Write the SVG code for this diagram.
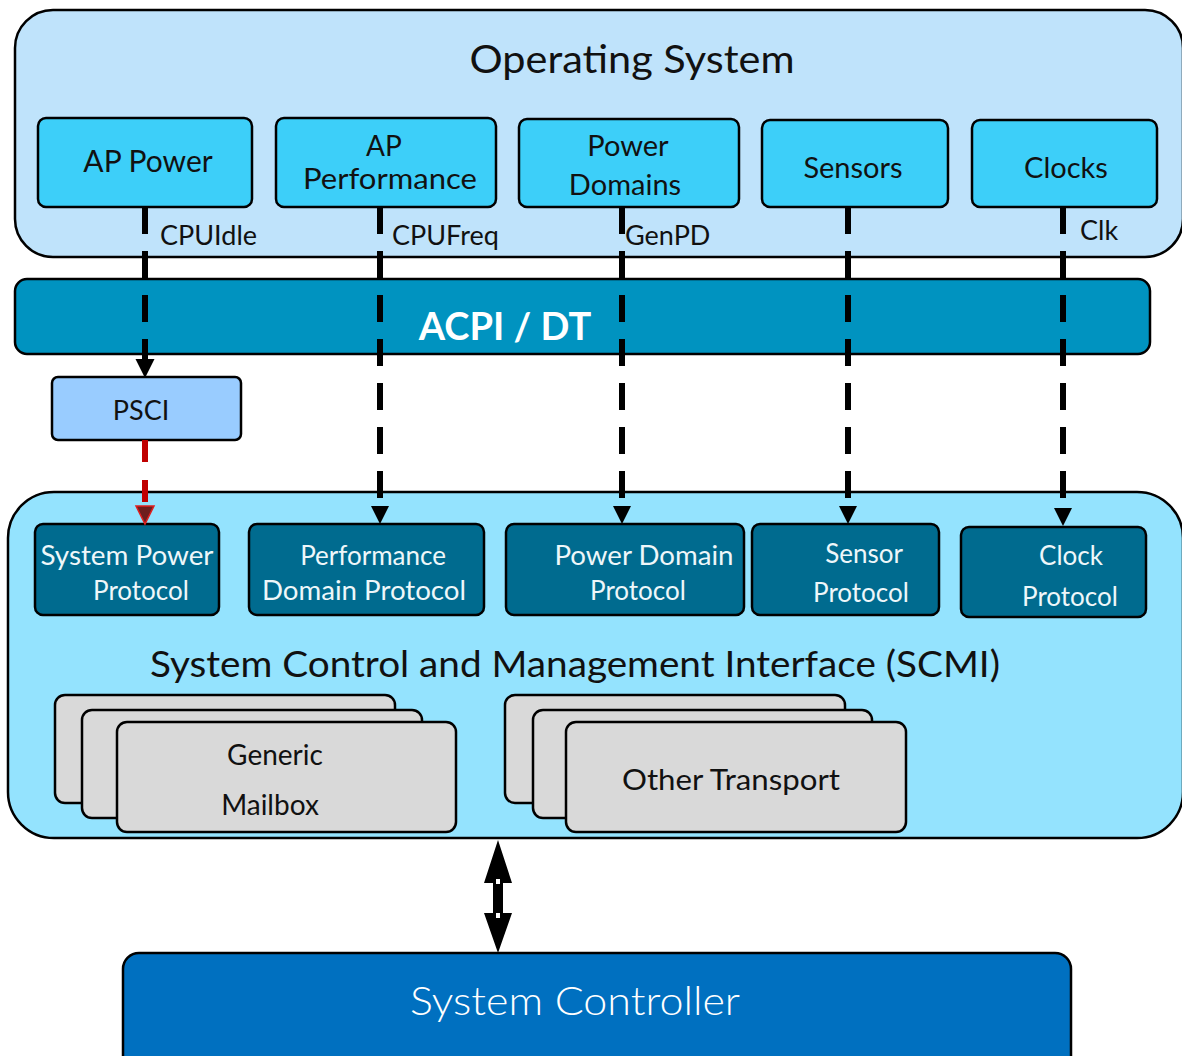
<svg xmlns="http://www.w3.org/2000/svg" width="1182" height="1056" viewBox="0 0 1182 1056">
<defs>
<style>
text{font-family:Lato,"Open Sans","Liberation Sans",sans-serif;}
.os{fill:#BFE3FB;stroke:#000;stroke-width:2.5}
.tb{fill:#3DCFF9;stroke:#000;stroke-width:2.5}
.t{fill:#111;text-anchor:middle}
.lbl{fill:#111;font-size:27px}
.pr{fill:#006B8F;stroke:#000;stroke-width:2.5}
.pt{fill:#EEF7FA;font-size:26px;text-anchor:middle}
.gr{fill:#D9D9D9;stroke:#000;stroke-width:2.5}
.dash{stroke:#000;stroke-width:6;stroke-dasharray:27 17;fill:none}
</style>
</defs>

<g id="operating-system">
<rect class="os" x="15" y="10" width="1168" height="247" rx="38"/>
<text class="t" x="632" y="73" font-size="38" textLength="325" lengthAdjust="spacingAndGlyphs">Operating System</text>
</g>

<g id="ap-power">
<rect class="tb" x="38" y="118" width="214" height="89" rx="8"/>
<text class="t" x="148" y="172" font-size="30">AP Power</text>
</g>
<g id="ap-performance">
<rect class="tb" x="276" y="118" width="220" height="89" rx="8"/>
<text class="t" x="384" y="156" font-size="28">AP</text>
<text class="t" x="390" y="189" font-size="28" textLength="174" lengthAdjust="spacingAndGlyphs">Performance</text>
</g>
<g id="power-domains">
<rect class="tb" x="519" y="119" width="220" height="88" rx="8"/>
<text class="t" x="628" y="156" font-size="29">Power</text>
<text class="t" x="625" y="195" font-size="29">Domains</text>
</g>
<g id="sensors">
<rect class="tb" x="762" y="120" width="186" height="87" rx="8"/>
<text class="t" x="853" y="178" font-size="29">Sensors</text>
</g>
<g id="clocks">
<rect class="tb" x="972" y="120" width="185" height="87" rx="8"/>
<text class="t" x="1066" y="178" font-size="29">Clocks</text>
</g>

<g id="acpi-dt">
<rect x="15" y="279" width="1135" height="75" rx="12" fill="#0093C0" stroke="#000" stroke-width="2.5"/>
<text x="505" y="340" font-size="38" font-weight="bold" fill="#fff" text-anchor="middle">ACPI / DT</text>
</g>

<g id="psci">
<rect x="52" y="377" width="189" height="63" rx="6" fill="#99CCFF" stroke="#000" stroke-width="2.5"/>
<text class="t" x="141" y="420" font-size="27">PSCI</text>
</g>

<g id="scmi">
<rect x="8" y="492" width="1175" height="346" rx="46" fill="#94E3FE" stroke="#000" stroke-width="2.5"/>
<text class="t" x="575" y="677" font-size="36" textLength="850" lengthAdjust="spacingAndGlyphs">System Control and Management Interface (SCMI)</text>
</g>

<g id="system-power-protocol">
<rect class="pr" x="35" y="524" width="184" height="91" rx="8"/>
<text class="pt" x="127" y="565" textLength="173" lengthAdjust="spacingAndGlyphs">System Power</text>
<text class="pt" x="141" y="600">Protocol</text>
</g>
<g id="performance-domain-protocol">
<rect class="pr" x="249" y="524" width="235" height="91" rx="8"/>
<text class="pt" x="373" y="565">Performance</text>
<text class="pt" x="364" y="600" textLength="204" lengthAdjust="spacingAndGlyphs">Domain Protocol</text>
</g>
<g id="power-domain-protocol">
<rect class="pr" x="506" y="524" width="238" height="91" rx="8"/>
<text class="pt" x="644" y="565" textLength="179" lengthAdjust="spacingAndGlyphs">Power Domain</text>
<text class="pt" x="638" y="600">Protocol</text>
</g>
<g id="sensor-protocol">
<rect class="pr" x="752" y="524" width="187" height="91" rx="8"/>
<text class="pt" x="864" y="563">Sensor</text>
<text class="pt" x="861" y="602">Protocol</text>
</g>
<g id="clock-protocol">
<rect class="pr" x="961" y="527" width="185" height="90" rx="8"/>
<text class="pt" x="1071" y="565">Clock</text>
<text class="pt" x="1070" y="606">Protocol</text>
</g>

<g id="generic-mailbox">
<rect class="gr" x="55" y="695" width="340" height="108" rx="10"/>
<rect class="gr" x="82" y="710" width="340" height="108" rx="10"/>
<rect class="gr" x="117" y="722" width="339" height="110" rx="10"/>
<text class="t" x="275" y="765" font-size="28">Generic</text>
<text class="t" x="270" y="815" font-size="28">Mailbox</text>
</g>
<g id="other-transport">
<rect class="gr" x="505" y="695" width="340" height="108" rx="10"/>
<rect class="gr" x="533" y="710" width="339" height="108" rx="10"/>
<rect class="gr" x="566" y="722" width="340" height="110" rx="10"/>
<text class="t" x="731" y="790" font-size="28" textLength="218" lengthAdjust="spacingAndGlyphs">Other Transport</text>
</g>

<g id="system-controller">
<rect x="123" y="953" width="948" height="120" rx="16" fill="#0070C0" stroke="#000" stroke-width="2.5"/>
<text x="575" y="1015" font-size="39" font-weight="300" fill="#fff" text-anchor="middle" textLength="330" lengthAdjust="spacingAndGlyphs">System Controller</text>
</g>

<g id="connectors">
<line class="dash" x1="145" y1="207" x2="145" y2="362"/>
<path d="M135.5,359 L154.5,359 L145,378 Z" fill="#000"/>
<line class="dash" x1="380" y1="207" x2="380" y2="508"/>
<path d="M371,506 L389,506 L380,524 Z" fill="#000"/>
<line class="dash" x1="622" y1="207" x2="622" y2="508"/>
<path d="M613,506 L631,506 L622,524 Z" fill="#000"/>
<line class="dash" x1="848" y1="207" x2="848" y2="508"/>
<path d="M839,506 L857,506 L848,524 Z" fill="#000"/>
<line class="dash" x1="1063" y1="207" x2="1063" y2="510"/>
<path d="M1054,508 L1072,508 L1063,526 Z" fill="#000"/>
<line x1="145" y1="440" x2="145" y2="508" stroke="#C00000" stroke-width="6" stroke-dasharray="22 18"/>
<path d="M136,506 L154,506 L145,524 Z" fill="#6E1E1E" stroke="#E02020" stroke-width="1.5"/>
<text class="lbl" x="160" y="245">CPUIdle</text>
<text class="lbl" x="392" y="245">CPUFreq</text>
<text class="lbl" x="625" y="245">GenPD</text>
<text class="lbl" x="1080" y="240">Clk</text>
<path d="M498,840 L512,883 L503,883 L503,913 L512,913 L498,953 L484,913 L493,913 L493,883 L484,883 Z" fill="#000"/>
<rect x="496" y="879" width="4" height="5" fill="#fff"/>
<rect x="496" y="913" width="4" height="5" fill="#fff"/>
</g>
</svg>
